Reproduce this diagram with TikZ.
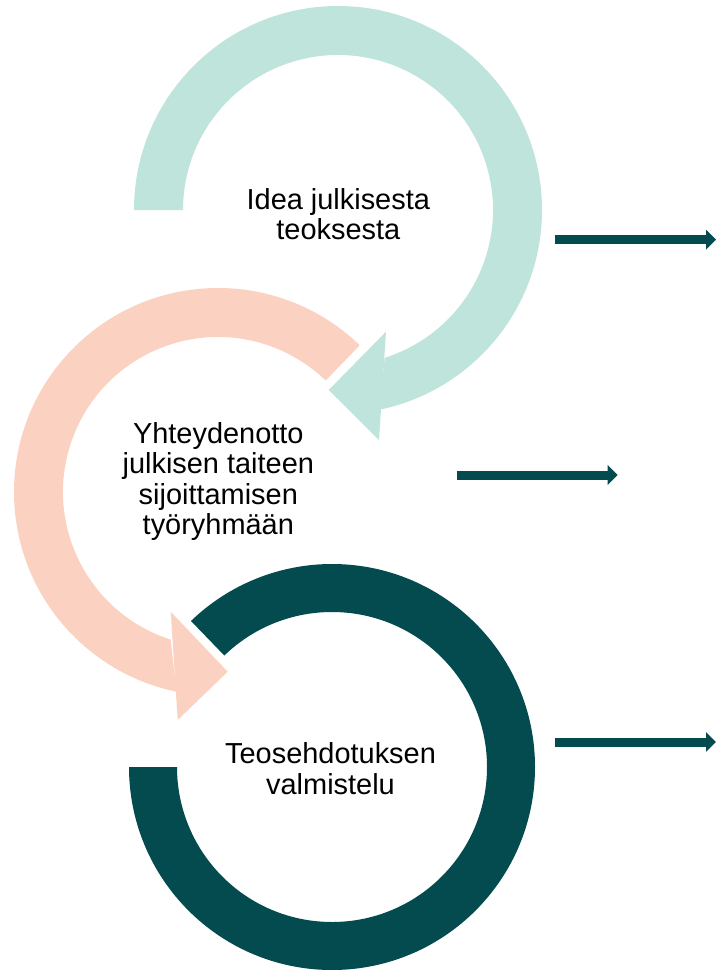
\documentclass[tikz,border=0pt]{standalone}
\usepackage{fontspec}
\setmainfont{Liberation Sans}
\usetikzlibrary{arrows.meta}
\definecolor{lightteal}{HTML}{BFE4DB}
\definecolor{salmon}{HTML}{FBD2C1}
\definecolor{darkteal}{HTML}{034B4F}
\tikzset{
  steplabel/.style={align=center, inner sep=0pt, text=black,
    font=\fontsize{21.7pt}{22.8pt}\selectfont},
  blockarrow/.style={draw=darkteal, line width=6.75pt,
    -{Triangle[length=7.5pt, width=14.5pt]}}
}
\begin{document}
\begin{tikzpicture}[x=0.75pt, y=0.75pt]
\useasboundingbox (0,0) rectangle (715,-970);
% centres of the three circular arrows
\coordinate (cA) at (338,-210);
\coordinate (cB) at (218,-492);
\coordinate (cC) at (332,-767);
% top circular arrow
\fill[lightteal, shift={(cA)}] (180:204) arc[start angle=180, end angle=-78.2, radius=204]
  -- (-72.5:155) arc[start angle=-72.5, end angle=180, radius=155] -- cycle;
\fill[lightteal] (386,-331.7) -- (328.7,-390) -- (379,-440) -- cycle;
% middle circular arrow
\fill[salmon, shift={(cB)}] (46:204) arc[start angle=46, end angle=258.3, radius=204]
  -- (252.2:155) arc[start angle=252.2, end angle=46, radius=155] -- cycle;
\fill[salmon] (170.7,-611.7) -- (227.7,-671.7) -- (177.7,-720) -- cycle;
% bottom ring
\fill[darkteal, shift={(cC)}] (180:203) arc[start angle=180, end angle=494, radius=203]
  -- (494:155) arc[start angle=494, end angle=180, radius=155] -- cycle;
% texts
\node[steplabel] (t1) at (338.3,-214) {Idea julkisesta\\teoksesta};
\node[steplabel] (t2) at (218.3,-481.4) {Yhteydenotto\\julkisen taiteen\\sijoittamisen\\työryhmään};
\node[steplabel] (t3) at (330.5,-768.7) {Teosehdotuksen\\valmistelu};
% right arrows
\coordinate (a1s) at (555,-239.7);
\coordinate (a1e) at (716,-239.7);
\coordinate (a2s) at (456.7,-475);
\coordinate (a2e) at (617.7,-475);
\coordinate (a3s) at (555,-742);
\coordinate (a3e) at (716,-742);
\draw[blockarrow] (a1s) -- (a1e);
\draw[blockarrow] (a2s) -- (a2e);
\draw[blockarrow] (a3s) -- (a3e);
\end{tikzpicture}
\end{document}
